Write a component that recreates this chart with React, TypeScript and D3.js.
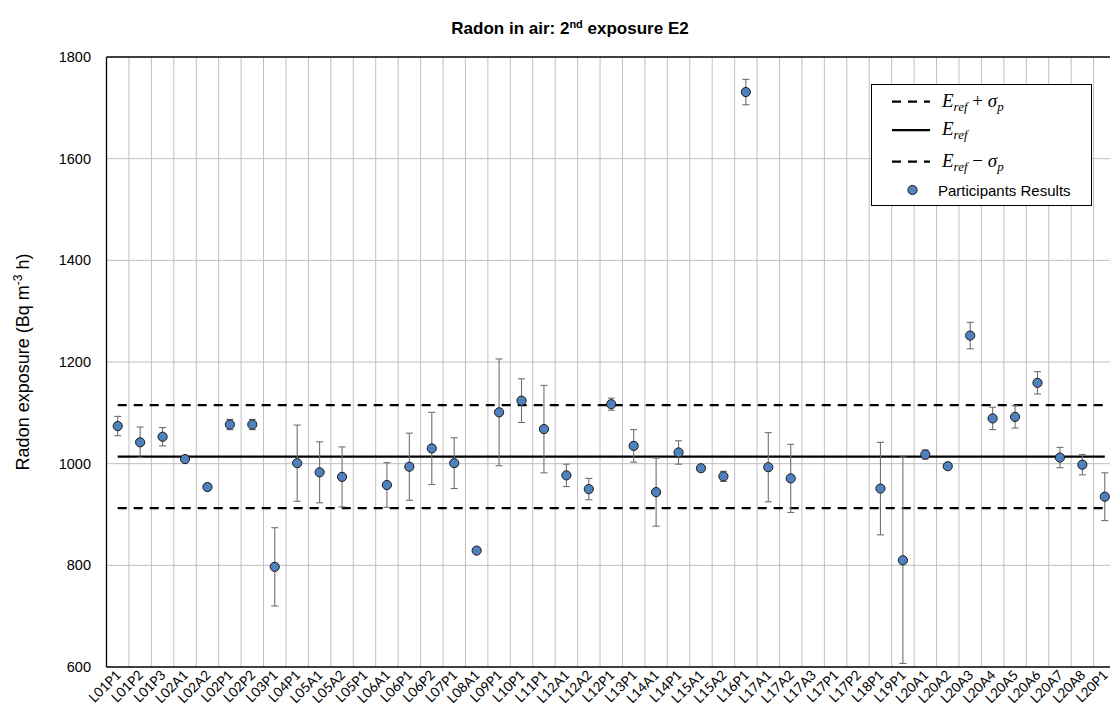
import React from "react";
import * as d3 from "d3";

const categories = [
  "L01P1","L01P2","L01P3","L02A1","L02A2","L02P1","L02P2","L03P1","L04P1","L05A1",
  "L05A2","L05P1","L06A1","L06P1","L06P2","L07P1","L08A1","L09P1","L10P1","L11P1",
  "L12A1","L12A2","L12P1","L13P1","L14A1","L14P1","L15A1","L15A2","L16P1","L17A1",
  "L17A2","L17A3","L17P1","L17P2","L18P1","L19P1","L20A1","L20A2","L20A3","L20A4",
  "L20A5","L20A6","L20A7","L20A8","L20P1",
];

const results: (number | null)[] = [
  1074, 1042, 1053, 1009, 954, 1077, 1077, 797, 1001, 983,
  974, null, 958, 994, 1030, 1001, 829, 1101, 1124, 1068,
  977, 950, 1117, 1035, 944, 1022, 991, 975, 1731, 993,
  971, null, null, null, 951, 810, 1018, 995, 1252, 1089,
  1092, 1159, 1012, 998, 935,
];

const uncertainties: number[] = [
  19, 30, 18, 4, 0, 10, 10, 77, 75, 60,
  59, 0, 44, 66, 71, 50, 0, 105, 43, 86,
  22, 21, 12, 32, 67, 23, 2, 10, 25, 68,
  67, 0, 0, 0, 91, 203, 9, 5, 26, 22,
  22, 22, 20, 20, 47,
];

const yTicks = [600, 800, 1000, 1200, 1400, 1600, 1800];
const E_REF = 1014;
const SIGMA_P = 101.4;

const W = 1110;
const H = 720;
const LEFT = 106.5;
const RIGHT = 1116;
const TOP = 57;
const BOTTOM = 667;

export default function App() {
  const x = d3.scaleBand<string>().domain(categories).range([LEFT, RIGHT]).padding(0);
  const y = d3.scaleLinear().domain([600, 1800]).range([BOTTOM, TOP]);
  const bw = x.bandwidth();
  const cx = (c: string) => (x(c) as number) + bw / 2;
  const x0 = cx(categories[0]);
  const x1 = cx(categories[categories.length - 1]);

  const pts = categories
    .map((c, i) => ({ c, v: results[i], e: uncertainties[i] }))
    .filter((d) => d.v !== null) as { c: string; v: number; e: number }[];

  const gridColor = "#c0c0c0";
  const sans = "'Liberation Sans', Arial, sans-serif";
  const serif = "'Liberation Serif', 'DejaVu Serif', serif";

  const mathLabel = (yy: number, op: string | null) => (
    <text x={942} y={yy} fontFamily={serif} fontSize={19} fill="#000">
      <tspan fontStyle="italic">E</tspan>
      <tspan fontStyle="italic" fontSize={13} dy={4}>ref</tspan>
      {op !== null && (
        <>
          <tspan dy={-4}>{` ${op} `}</tspan>
          <tspan fontStyle="italic">σ</tspan>
          <tspan fontStyle="italic" fontSize={13} dy={4}>p</tspan>
        </>
      )}
    </text>
  );

  return (
    <svg width={W} height={H} style={{ position: "absolute", left: 0, top: 0, background: "#fff" }}>
      <rect x={0} y={0} width={W} height={H} fill="#fff" />
      {/* title */}
      <text x={570} y={34} textAnchor="middle" fontFamily={sans} fontWeight="bold" fontSize={17}>
        Radon in air: 2<tspan fontSize={11} dy={-6}>nd</tspan>
        <tspan dy={6}> exposure E2</tspan>
      </text>

      {/* horizontal grid */}
      {yTicks.slice(1, -1).map((t) => (
        <line key={"h" + t} x1={LEFT} x2={W} y1={y(t)} y2={y(t)} stroke={gridColor} strokeWidth={1} />
      ))}
      {/* vertical grid */}
      {categories.slice(1).map((c) => (
        <line key={"v" + c} x1={x(c) as number} x2={x(c) as number} y1={TOP} y2={BOTTOM} stroke={gridColor} strokeWidth={1} />
      ))}
      {/* plot border */}
      <line x1={LEFT} x2={W} y1={TOP} y2={TOP} stroke="#000" strokeWidth={1.3} />
      <line x1={LEFT} x2={LEFT} y1={TOP} y2={BOTTOM} stroke="#000" strokeWidth={1.3} />
      <line x1={LEFT} x2={W} y1={BOTTOM} y2={BOTTOM} stroke="#000" strokeWidth={1.3} />

      {/* y tick labels */}
      {yTicks.map((t) => (
        <text key={"yt" + t} x={91} y={y(t) + 5} textAnchor="end" fontFamily={sans} fontSize={14.5} fill="#000">
          {t}
        </text>
      ))}

      {/* y axis title */}
      <text
        transform={`translate(29,${(TOP + BOTTOM) / 2}) rotate(-90)`}
        textAnchor="middle"
        fontFamily={sans}
        fontSize={18}
        fill="#000"
      >
        Radon exposure (Bq m<tspan fontSize={12} dy={-7}>-3</tspan>
        <tspan dy={7}> h)</tspan>
      </text>

      {/* x labels */}
      {categories.map((c) => (
        <text
          key={"xl" + c}
          transform={`translate(${cx(c) + 4},${BOTTOM + 9}) rotate(-45)`}
          textAnchor="end"
          fontFamily="Lato, 'Open Sans', sans-serif"
          fontSize={13.5}
          fill="#000"
        >
          {c}
        </text>
      ))}

      {/* reference lines */}
      <line x1={x0} x2={x1} y1={y(E_REF + SIGMA_P)} y2={y(E_REF + SIGMA_P)} stroke="#000" strokeWidth={2.25} strokeDasharray="9,7" />
      <line x1={x0} x2={x1} y1={y(E_REF)} y2={y(E_REF)} stroke="#000" strokeWidth={2.25} />
      <line x1={x0} x2={x1} y1={y(E_REF - SIGMA_P)} y2={y(E_REF - SIGMA_P)} stroke="#000" strokeWidth={2.25} strokeDasharray="9,7" />

      {/* error bars */}
      {pts.filter((d) => d.e > 0).map((d) => {
        const px = cx(d.c);
        const yt = y(d.v + d.e);
        const yb = y(d.v - d.e);
        return (
          <g key={"e" + d.c} stroke="#707070" strokeWidth={1.1}>
            <line x1={px} x2={px} y1={yt} y2={yb} />
            <line x1={px - 3.5} x2={px + 3.5} y1={yt} y2={yt} />
            <line x1={px - 3.5} x2={px + 3.5} y1={yb} y2={yb} />
          </g>
        );
      })}

      {/* points */}
      {pts.map((d) => (
        <circle key={"p" + d.c} cx={cx(d.c)} cy={y(d.v)} r={4.6} fill="#4f81bd" stroke="#1a1a1a" strokeWidth={1} />
      ))}

      {/* legend */}
      <rect x={871.5} y={84.5} width={220} height={121} fill="#fff" stroke="#000" strokeWidth={1} />
      <line x1={892} x2={930} y1={101.5} y2={101.5} stroke="#000" strokeWidth={2.25} strokeDasharray="9,7" />
      <line x1={892} x2={930} y1={130} y2={130} stroke="#000" strokeWidth={2.25} />
      <line x1={892} x2={930} y1={161.5} y2={161.5} stroke="#000" strokeWidth={2.25} strokeDasharray="9,7" />
      <circle cx={912.5} cy={190} r={4.6} fill="#4f81bd" stroke="#1a1a1a" strokeWidth={1} />

      {mathLabel(107, "+")}
      {mathLabel(135, null)}
      {mathLabel(167, "−")}
      <text x={938} y={195.5} fontFamily={sans} fontSize={15} fill="#000">
        Participants Results
      </text>
    </svg>
  );
}
